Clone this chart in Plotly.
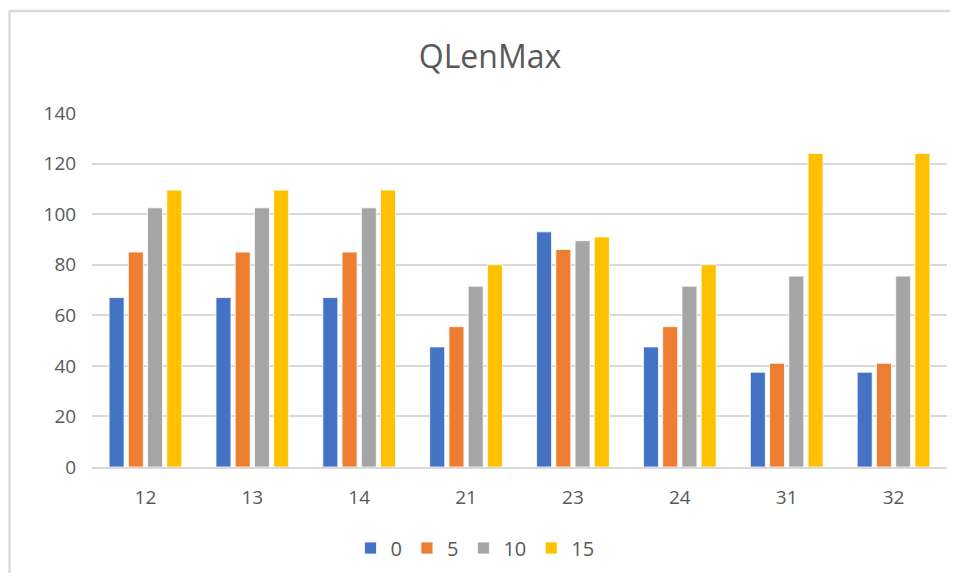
import plotly.graph_objects as go

categories = ["12", "13", "14", "21", "23", "24", "31", "32"]
series_names = ["0", "5", "10", "15"]
s0 = [67, 67, 67, 47.5, 93, 47.5, 37.5, 37.5]
s5 = [85, 85, 85, 55.5, 86, 55.5, 41, 41]
s10 = [102.5, 102.5, 102.5, 71.5, 89.5, 71.5, 75.5, 75.5]
s15 = [109.5, 109.5, 109.5, 80, 91, 80, 124, 124]
colors = ["#4472C4", "#ED7D31", "#A5A5A5", "#FFC000"]

FONT = "Open Sans"
TXT = "#595959"

# page body has an 8px margin; figure coordinates are offset accordingly
W, H = 942, 565
L, T = 84, 105
PW, PH = 855, 354
R = W - L - PW
B = H - T - PH

fig = go.Figure()
for name, vals, col in zip(series_names, [s0, s5, s10, s15], colors):
    fig.add_trace(go.Bar(
        x=categories, y=vals, name=name,
        marker=dict(color=col, line=dict(color="white", width=0.8)),
    ))

fig.update_layout(
    width=W, height=H,
    margin=dict(l=L, r=R, t=T, b=B),
    paper_bgcolor="white", plot_bgcolor="white",
    barmode="group", bargap=0.28, bargroupgap=0.22,
    title=dict(text="QLenMax", x=482 / W, xanchor="center", y=1 - 49 / H, yanchor="middle",
               font=dict(family=FONT, size=32, color=TXT)),
    font=dict(family=FONT, size=19, color=TXT),
    legend=dict(orientation="h", x=(475 - 8 - L) / PW, xanchor="center",
                y=(T + PH - 540) / PH, yanchor="middle",
                font=dict(family=FONT, size=20, color=TXT), itemwidth=30,
                traceorder="normal"),
    xaxis=dict(type="category", showgrid=False, showline=True, linecolor="#d9d9d9", linewidth=1.5,
               ticks="outside", ticklen=12, tickcolor="rgba(0,0,0,0)",
               tickfont=dict(family=FONT, size=19, color=TXT)),
    yaxis=dict(range=[0, 140], dtick=20, showgrid=True, gridcolor="#d9d9d9", gridwidth=1.5,
               zeroline=False, showline=False,
               ticks="outside", ticklen=11, tickcolor="rgba(0,0,0,0)",
               tickfont=dict(family=FONT, size=19, color=TXT)),
    showlegend=True,
)

# chart area border (top and left edges visible)
bx = (1.5 - L) / PW
by = 1 + (T - 3) / PH
fig.add_shape(type="line", xref="paper", yref="paper",
              x0=bx, x1=(W - L) / PW, y0=by, y1=by,
              line=dict(color="#d9d9d9", width=2.5))
fig.add_shape(type="line", xref="paper", yref="paper",
              x0=bx, x1=bx, y0=by, y1=-0.4,
              line=dict(color="#d9d9d9", width=2.5))

fig.write_html("out.html")
